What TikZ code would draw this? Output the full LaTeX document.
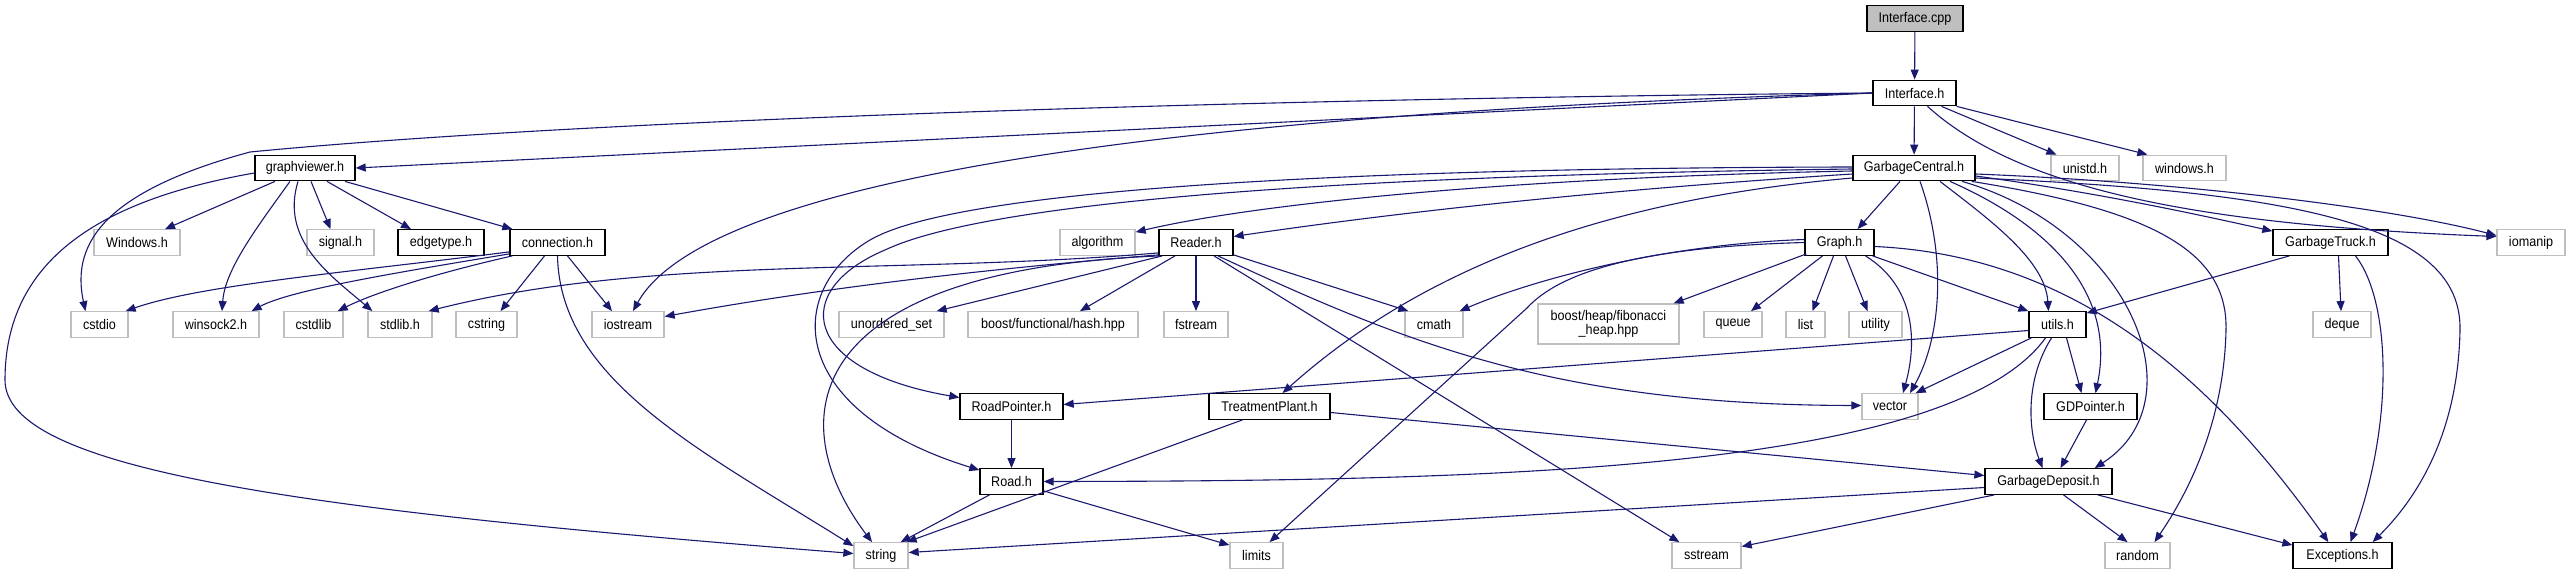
\documentclass[tikz,border=0pt]{standalone}
\usepackage{fontspec}
\setmainfont{Liberation Sans}[FakeStretch=0.9]
\usetikzlibrary{arrows.meta,calc}
\definecolor{edgec}{HTML}{191970}
\definecolor{gborder}{HTML}{BFBFBF}
\definecolor{gfill}{HTML}{BFBFBF}
\begin{document}
\begin{tikzpicture}[x=1pt,y=-1pt,
  file/.style={draw=black, line width=1.3pt, fill=white, minimum height=25.5pt, inner sep=0pt,
    font=\fontsize{14}{15}\selectfont, text=black},
  sys/.style={file, draw=gborder},
  dep/.style={draw=edgec, line width=1.1pt, -{Triangle[length=10pt,width=8pt]}}]
\useasboundingbox (0,0) rectangle (2569,575);
% row 1-2
\node[file, fill=gfill, minimum width=96pt] (icpp) at (1915,18.5) {Interface.cpp};
\node[file, minimum width=83pt] (ih) at (1914.5,93) {Interface.h};
% row 3
\node[file, minimum width=100pt] (gv) at (305,168) {graphviewer.h};
\node[file, minimum width=122pt] (gc) at (1914,168) {GarbageCentral.h};
\node[sys, minimum width=68pt] (unistd) at (2085,168) {unistd.h};
\node[sys, minimum width=83pt] (windows) at (2184.5,168) {windows.h};
% row 4
\node[sys, minimum width=86pt] (win) at (137,242.5) {Windows.h};
\node[sys, minimum width=67pt] (sig) at (340.5,242.5) {signal.h};
\node[file, minimum width=86pt] (edg) at (441,242.5) {edgetype.h};
\node[file, minimum width=95pt] (conn) at (557.5,242.5) {connection.h};
\node[sys, minimum width=75pt] (alg) at (1097.5,242.5) {algorithm};
\node[file, minimum width=74pt] (reader) at (1196,242.5) {Reader.h};
\node[file, minimum width=69pt] (graph) at (1839.5,242.5) {Graph.h};
\node[file, minimum width=115pt] (gt) at (2330.5,242.5) {GarbageTruck.h};
\node[sys, minimum width=68pt] (iomanip) at (2531,242.5) {iomanip};
% row 5
\node[sys, minimum width=57pt] (cstdio) at (99.5,324.5) {cstdio};
\node[sys, minimum width=86pt] (ws) at (216,324.5) {winsock2.h};
\node[sys, minimum width=59pt] (cstdlib) at (313.5,324.5) {cstdlib};
\node[sys, minimum width=64pt] (stdlibh) at (400,324.5) {stdlib.h};
\node[sys, minimum width=61pt] (cstring) at (486.5,324.5) {cstring};
\node[sys, minimum width=72pt] (iostream) at (628,324.5) {iostream};
\node[sys, minimum width=105pt] (uset) at (891.5,324.5) {unordered\_set};
\node[sys, minimum width=170pt] (bfh) at (1053,324.5) {boost/functional/hash.hpp};
\node[sys, minimum width=64pt] (fstream) at (1196,324.5) {fstream};
\node[sys, minimum width=58pt] (cmath) at (1434,324.5) {cmath};
\node[sys, minimum width=141pt, minimum height=40pt, align=center, font=\fontsize{14}{14.5}\selectfont] (fib) at (1608.5,324) {boost/heap/fibonacci\\\_heap.hpp};
\node[sys, minimum width=58pt] (queue) at (1733,324.5) {queue};
\node[sys, minimum width=39pt] (list) at (1805.5,324.5) {list};
\node[sys, minimum width=53pt] (utility) at (1875.5,324.5) {utility};
\node[file, minimum width=57pt] (utils) at (2057.5,324.5) {utils.h};
\node[sys, minimum width=58pt] (deque) at (2342,324.5) {deque};
% row 6
\node[file, minimum width=103pt] (rp) at (1011.5,406.5) {RoadPointer.h};
\node[file, minimum width=121pt] (tp) at (1269.5,406.5) {TreatmentPlant.h};
\node[sys, minimum width=56pt] (vector) at (1890,406.5) {vector};
\node[file, minimum width=93pt] (gdp) at (2090.5,406.5) {GDPointer.h};
% row 7
\node[file, minimum width=63pt] (road) at (1011.5,481.5) {Road.h};
\node[file, minimum width=127pt] (gd) at (2048.5,481.5) {GarbageDeposit.h};
% row 8
\node[sys, minimum width=54pt] (str) at (881,555.5) {string};
\node[sys, minimum width=53pt] (limits) at (1256.5,555.5) {limits};
\node[sys, minimum width=69pt] (sstream) at (1706.5,555.5) {sstream};
\node[sys, minimum width=65pt] (random) at (2137.5,555.5) {random};
\node[file, minimum width=99pt] (exc) at (2342.5,555.5) {Exceptions.h};

% Interface.cpp / Interface.h
\draw[dep] (icpp) -- (ih);
\draw[dep] (ih.west) -- (gv.east);
\draw[dep] (ih.west) .. controls (1300,98) and (600,118) .. (250,152) .. controls (110,190) and (70,240) .. ($(cstdio.north)+(-14,0)$);
\draw[dep] (ih.west) .. controls (1100,115) and (700,190) .. ($(iostream.north)+(5,0)$);
\draw[dep] (ih) -- (gc);
\draw[dep] ($(ih.south)+(27,0)$) -- ($(unistd.north west)+(6,0)$);
\draw[dep] (ih.south east) -- ($(windows.north west)+(5,0)$);
\draw[dep] ($(ih.south)+(13,0)$) .. controls (2020,190) and (2200,225) .. ($(iomanip.west)+(0,-6)$);
% graphviewer.h
\draw[dep] ($(gv.south)+(-30,0)$) -- ($(win.north)+(28,0)$);
\draw[dep] ($(gv.south)+(-15,0)$) .. controls (255,230) and (225,270) .. ($(ws.north)+(6,0)$);
\draw[dep] ($(gv.south)+(-7,0)$) .. controls (280,240) and (330,275) .. ($(stdlibh.north west)+(5,0)$);
\draw[dep] ($(gv.south)+(6,0)$) -- ($(sig.north)+(-10,0)$);
\draw[dep] ($(gv.south)+(22,0)$) -- ($(edg.north)+(-30,0)$);
\draw[dep] ($(gv.south)+(40,0)$) -- ($(conn.north west)+(3,0)$);
\draw[dep] ($(gv.west)+(0,5)$) .. controls (100,200) and (5,260) .. (5,380) .. controls (5,470) and (300,510) .. ($(str.west)+(0,-2)$);
% connection.h
\draw[dep] ($(conn.south west)+(0,-4)$) .. controls (350,272) and (200,285) .. ($(cstdio.north east)+(-3,0)$);
\draw[dep] ($(conn.south west)+(0,-2)$) .. controls (400,272) and (290,290) .. ($(ws.north east)+(-8,0)$);
\draw[dep] ($(conn.south west)+(3,0)$) .. controls (450,270) and (380,290) .. ($(cstdlib.north east)+(-6,0)$);
\draw[dep] ($(conn.south)+(-13,0)$) -- ($(cstring.north)+(14,0)$);
\draw[dep] (conn.south) .. controls (560,380) and (700,450) .. ($(str.north west)+(0,4)$);
\draw[dep] ($(conn.south)+(10,0)$) -- ($(iostream.north)+(-16,0)$);
% GarbageCentral.h
\draw[dep] ($(gc.west)+(0,3)$) .. controls (1500,178) and (1250,205) .. ($(alg.north east)+(0,3)$);
\draw[dep] ($(gc.west)+(0,6)$) .. controls (1600,190) and (1400,212) .. ($(reader.east)+(0,-6)$);
\draw[dep] ($(gc.west)+(0,1)$) .. controls (1300,176) and (980,205) .. (885,250) .. controls (790,290) and (800,370) .. ($(rp.west)+(0,-9)$);
\draw[dep] ($(gc.west)+(0,-1)$) .. controls (1300,168) and (950,193) .. (870,240) .. controls (785,290) and (785,410) .. ($(road.north west)+(0,2)$);
\draw[dep] ($(gc.west)+(0,10)$) .. controls (1600,200) and (1420,270) .. ($(tp.north)+(13,0)$);
\draw[dep] ($(gc.south)+(-14,0)$) -- ($(graph.north)+(18,0)$);
\draw[dep] ($(gc.south)+(6,0)$) .. controls (1948,260) and (1940,340) .. ($(vector.north)+(20,0)$);
\draw[dep] ($(gc.south)+(26,0)$) .. controls (1990,220) and (2045,260) .. ($(utils.north)+(-9,0)$);
\draw[dep] ($(gc.south)+(36,0)$) .. controls (2060,230) and (2115,300) .. ($(gdp.north)+(5,0)$);
\draw[dep] ($(gc.south)+(48,0)$) .. controls (2130,230) and (2200,400) .. ($(gd.north east)+(-18,0)$);
\draw[dep] ($(gc.south east)+(-4,0)$) .. controls (2150,210) and (2228,250) .. (2226,330) .. controls (2224,420) and (2190,490) .. ($(random.north)+(17,0)$);
\draw[dep] ($(gc.east)+(0,8)$) .. controls (2100,193) and (2200,215) .. ($(gt.north west)+(0,2)$);
\draw[dep] ($(gc.east)+(0,6)$) .. controls (2200,183) and (2400,210) .. ($(iomanip.west)+(0,-7)$);
\draw[dep] ($(gc.east)+(0,10)$) .. controls (2300,192) and (2462,225) .. (2460,330) .. controls (2458,430) and (2420,495) .. ($(exc.north east)+(-20,0)$);
% Reader.h
\draw[dep] ($(reader.south west)+(0,-3)$) .. controls (900,275) and (650,255) .. ($(stdlibh.north east)+(-4,0)$);
\draw[dep] ($(reader.south west)+(0,-1)$) .. controls (950,272) and (800,292) .. ($(iostream.east)+(0,-8)$);
\draw[dep] ($(reader.south west)+(2,0)$) .. controls (800,270) and (780,420) .. ($(str.north)+(-9,0)$);
\draw[dep] ($(reader.south west)+(4,0)$) -- ($(uset.north east)+(-8,0)$);
\draw[dep] ($(reader.south)+(-21,0)$) -- ($(bfh.north)+(27,0)$);
\draw[dep] (reader) -- (fstream);
\draw[dep] ($(reader.south east)+(0,-1)$) -- ($(cmath.north west)+(4,0)$);
\draw[dep] ($(reader.south)+(18,0)$) -- ($(sstream.north west)+(8,0)$);
\draw[dep] ($(reader.south)+(22,0)$) .. controls (1400,340) and (1550,405) .. ($(vector.west)+(0,-1)$);
% Graph.h
\draw[dep] ($(graph.west)+(0,-3)$) .. controls (1650,245) and (1520,285) .. ($(cmath.north east)+(-4,0)$);
\draw[dep] (graph.west) .. controls (1640,247) and (1560,272) .. (1527,308) -- ($(limits.north)+(13,0)$);
\draw[dep] ($(graph.south west)+(2,-2)$) -- ($(fib.north east)+(-6,0)$);
\draw[dep] ($(graph.south)+(-17,0)$) -- ($(queue.north)+(18,0)$);
\draw[dep] ($(graph.south)+(-6,0)$) -- ($(list.north)+(7,0)$);
\draw[dep] ($(graph.south)+(6,0)$) -- ($(utility.north)+(-8,0)$);
\draw[dep] ($(graph.south)+(26,0)$) .. controls (1920,290) and (1915,350) .. ($(vector.north)+(13,0)$);
\draw[dep] ($(graph.south east)+(-2,0)$) -- (utils.north west);
\draw[dep] ($(graph.east)+(0,4)$) .. controls (2060,255) and (2200,360) .. ($(exc.north west)+(36,0)$);
% GarbageTruck.h
\draw[dep] ($(gt.south west)+(17,0)$) -- ($(utils.north east)+(0,2)$);
\draw[dep] ($(gt.south)+(8,0)$) -- ($(deque.north)+(-1,0)$);
\draw[dep] ($(gt.south)+(25,0)$) .. controls (2390,300) and (2395,420) .. ($(exc.north)+(8,0)$);
% utils.h
\draw[dep] ($(utils.west)+(0,6)$) -- ($(rp.east)+(0,-2)$);
\draw[dep] ($(utils.south west)+(3,0)$) -- ($(vector.north east)+(-3,0)$);
\draw[dep] ($(utils.south)+(-12,0)$) .. controls (1950,470) and (1500,481) .. (road.east);
\draw[dep] ($(utils.south)+(9,0)$) -- ($(gdp.north)+(-9,0)$);
\draw[dep] ($(utils.south)+(-6,0)$) .. controls (2025,380) and (2028,430) .. ($(gd.north)+(-6,0)$);
% others
\draw[dep] (rp) -- (road);
\draw[dep] ($(tp.south)+(-27,0)$) -- ($(str.north east)+(-2,0)$);
\draw[dep] ($(tp.east)+(0,6)$) -- ($(gd.west)+(0,-6)$);
\draw[dep] ($(road.south)+(-22,0)$) -- ($(str.north east)+(-8,0)$);
\draw[dep] ($(road.south east)+(0,-4)$) -- ($(limits.north west)+(0,3)$);
\draw[dep] ($(gdp.south)+(-4,0)$) -- ($(gd.north)+(12,0)$);
\draw[dep] ($(gd.west)+(0,6)$) -- ($(str.east)+(0,-3)$);
\draw[dep] ($(gd.south west)+(10,0)$) -- ($(sstream.east)+(0,-9)$);
\draw[dep] ($(gd.south)+(15,0)$) -- ($(random.north)+(-10,0)$);
\draw[dep] ($(gd.south east)+(-15,0)$) -- ($(exc.north west)+(0,3)$);
\end{tikzpicture}
\end{document}
